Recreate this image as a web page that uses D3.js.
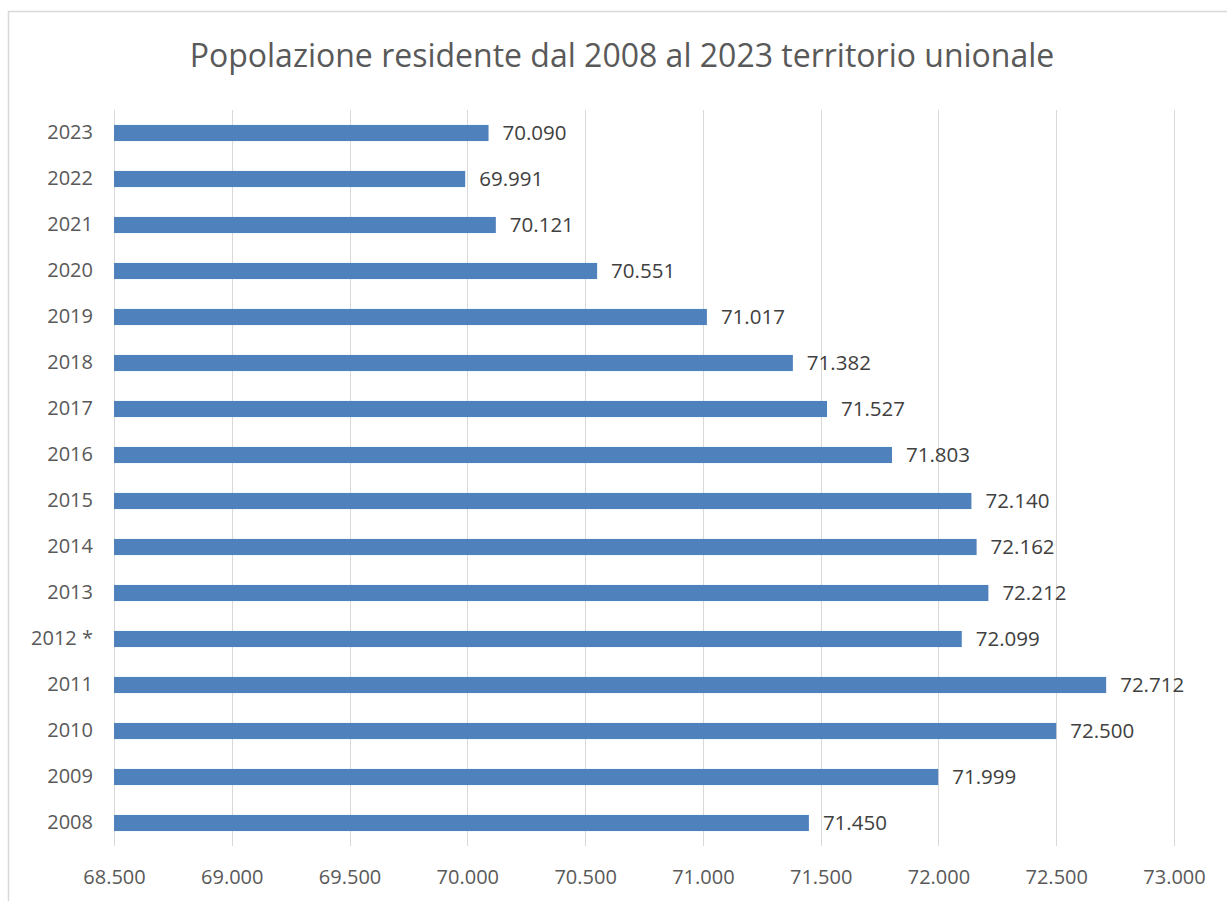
<!DOCTYPE html>
<html>
<head>
<meta charset="utf-8">
<script src="https://cdn.jsdelivr.net/npm/d3@7/dist/d3.min.js"></script>
<style>
  html, body { margin: 0; padding: 0; background: #fff; }
  svg { display: block; }
  text { font-family: "Open Sans", "Noto Sans", sans-serif; }
</style>
</head>
<body>
<svg id="chart" width="1227" height="901"></svg>
<script>
const title = "Popolazione residente dal 2008 al 2023 territorio unionale";
const categories = ["2023","2022","2021","2020","2019","2018","2017","2016","2015","2014","2013","2012 *","2011","2010","2009","2008"];
const values = [70090, 69991, 70121, 70551, 71017, 71382, 71527, 71803, 72140, 72162, 72212, 72099, 72712, 72500, 71999, 71450];
const tickValues = [68500, 69000, 69500, 70000, 70500, 71000, 71500, 72000, 72500, 73000];
const tickLabels = ["68.500","69.000","69.500","70.000","70.500","71.000","71.500","72.000","72.500","73.000"];
const valueLabels = ["70.090","69.991","70.121","70.551","71.017","71.382","71.527","71.803","72.140","72.162","72.212","72.099","72.712","72.500","71.999","71.450"];

const svg = d3.select("#chart");
const W = 1227, H = 901;
const margin = { left: 114, right: 53, top: 110, bottom: 55 };

// chart border
svg.append("rect")
  .attr("x", 8.5).attr("y", 11.5)
  .attr("width", 1240).attr("height", 1000)
  .attr("fill", "#fff").attr("stroke", "#d9d9d9").attr("stroke-width", 1.5);

const x = d3.scaleLinear().domain([68500, 73000]).range([margin.left, W - margin.right]);
const y = d3.scaleBand().domain(categories).range([margin.top, H - margin.bottom]).paddingInner(0.65).paddingOuter(0.325);

// gridlines
svg.append("g").selectAll("line").data(tickValues).join("line")
  .attr("x1", d => Math.round(x(d)) + 0.5).attr("x2", d => Math.round(x(d)) + 0.5)
  .attr("y1", margin.top).attr("y2", H - margin.bottom)
  .attr("stroke", "#d9d9d9").attr("stroke-width", 1);

// x axis labels
const xAxis = d3.axisBottom(x).tickValues(tickValues).tickSize(0).tickPadding(0)
  .tickFormat((d, i) => tickLabels[i]);
const gx = svg.append("g").attr("transform", `translate(0,${H - margin.bottom + 24})`).call(xAxis);
gx.select(".domain").remove();
gx.selectAll("text").attr("fill", "#595959").attr("font-size", 20).attr("dy", "0.71em");

// y axis labels
const yAxis = d3.axisLeft(y).tickSize(0).tickPadding(0);
const gy = svg.append("g").attr("transform", `translate(${margin.left - 21},0)`).call(yAxis);
gy.select(".domain").remove();
gy.selectAll("text").attr("fill", "#595959").attr("font-size", 20);

// bars
svg.append("g").selectAll("rect").data(values).join("rect")
  .attr("x", x(68500))
  .attr("y", (d, i) => y(categories[i]))
  .attr("width", d => x(d) - x(68500))
  .attr("height", y.bandwidth())
  .attr("fill", "#4f81bd");

// value labels
svg.append("g").selectAll("text").data(values).join("text")
  .attr("x", d => x(d) + 14)
  .attr("y", (d, i) => y(categories[i]) + y.bandwidth() / 2)
  .attr("dy", "0.36em")
  .attr("fill", "#404040").attr("font-size", 20.5)
  .text((d, i) => valueLabels[i]);

// title
svg.append("text")
  .attr("x", 622).attr("y", 67)
  .attr("text-anchor", "middle")
  .attr("fill", "#595959").attr("font-size", 32)
  .text(title);
</script>
</body>
</html>
